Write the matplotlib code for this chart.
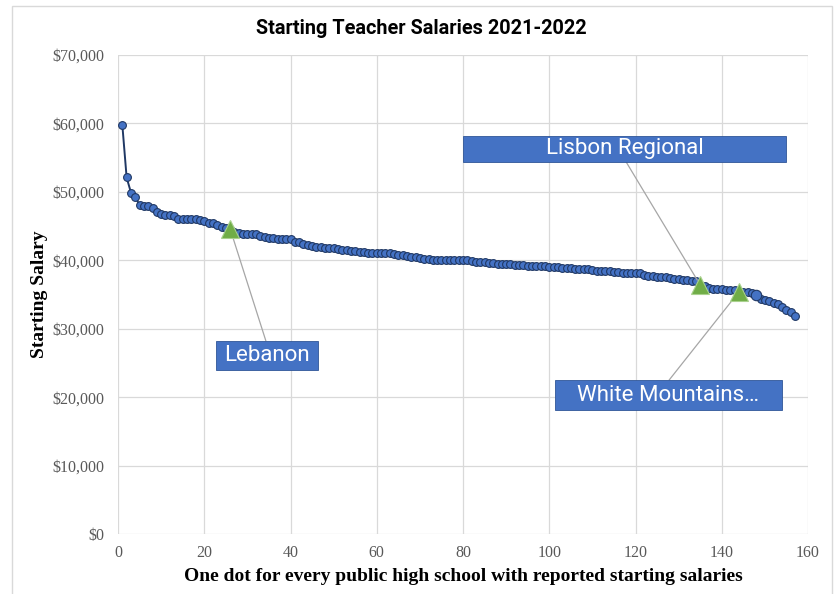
import matplotlib.pyplot as plt
from matplotlib.patches import Rectangle

# starting salary per school, sorted high to low (thousands of dollars)
salaries = [
    59.8, 52.1, 49.9, 49.2, 48.1, 48.0, 47.9, 47.6, 47.1, 46.7,
    46.6, 46.6, 46.5, 46.1, 46.0, 46.0, 46.0, 46.0, 45.9, 45.8,
    45.5, 45.4, 45.2, 44.9, 44.7, 44.6,
    44.1, 44.0, 43.9, 43.9, 43.9, 43.8, 43.5, 43.4, 43.3, 43.2,
    43.1, 43.1, 43.1, 43.1, 42.7, 42.6, 42.4, 42.2, 42.1, 41.9,
    41.9, 41.8, 41.8, 41.8, 41.6, 41.5,
    41.5, 41.4, 41.3, 41.2, 41.2, 41.1, 41.1, 41.1, 41.0, 41.0,
    41.0, 40.9, 40.8, 40.7, 40.6, 40.5, 40.5, 40.3, 40.2, 40.2,
    40.1, 40.1, 40.1, 40.1, 40.1, 40.0, 40.0, 40.0,
    40.0, 39.9, 39.8, 39.7, 39.7, 39.6, 39.6, 39.5, 39.5, 39.4,
    39.4, 39.3, 39.3, 39.3, 39.2, 39.2, 39.2, 39.1, 39.1, 39.0,
    39.0, 39.0, 38.9, 38.9, 38.8, 38.7,
    38.7, 38.7, 38.7, 38.6, 38.5, 38.5, 38.4, 38.4, 38.3, 38.3,
    38.2, 38.2, 38.2, 38.1, 38.1, 37.8, 37.7, 37.7, 37.6, 37.6,
    37.5, 37.4, 37.3, 37.2, 37.1, 37.1,
    37.0, 36.9, 36.4,
    36.3, 35.9, 35.8, 35.8, 35.8, 35.7, 35.6, 35.6, 35.4,
    35.3, 35.3, 35.2, 34.9, 34.4, 34.2, 34.0, 33.8, 33.6, 33.2,
    32.8, 32.4, 31.8,
]
schools = list(range(1, len(salaries) + 1))

# highlighted schools (1-based position in sorted list)
highlight_names = ['Lebanon', 'Lisbon Regional', 'White Mountains…']
highlight_idx = [26, 135, 144]

# label boxes: (x0, x1, y0, y1) in data units, and leader line start
label_boxes = [(22.7, 46.4, 24000, 28200), (80.0, 154.9, 54400, 58200), (101.3, 154.0, 18100, 22500)]
leader_from = [(34.3, 28200), (117.8, 54400), (127.8, 22500)]

y = [v * 1000 for v in salaries]

fig = plt.figure(figsize=(8.39, 5.94), dpi=100)
ax = fig.add_axes([118 / 839, 1 - 534 / 594, 690 / 839, 479 / 594])

# outer chart border
fig.patches.append(Rectangle((12 / 839, -0.01), 820 / 839, 1.0, transform=fig.transFigure,
                             fill=False, edgecolor='#d9d9d9', lw=1))

ax.plot(schools, y, color='#203864', lw=1.4, marker='o', markersize=5.6,
        markerfacecolor='#4472C4', markeredgecolor='#203864', markeredgewidth=0.8, zorder=3)
# one slightly bigger dot
ax.plot(schools[147], y[147], 'o', markersize=7.5, markerfacecolor='#4472C4',
        markeredgecolor='#203864', markeredgewidth=0.8, zorder=3)

hx = [schools[i - 1] for i in highlight_idx]
hy = [y[i - 1] for i in highlight_idx]
ax.plot(hx, hy, '^', markersize=13.5, markerfacecolor='#70AD47',
        markeredgecolor='#a9d18e', markeredgewidth=0.8, zorder=5, linestyle='none')

for name, (bx0, bx1, by0, by1), (lx, ly), px, py in zip(highlight_names, label_boxes, leader_from, hx, hy):
    ax.annotate('', xy=(px, py), xytext=(lx, ly),
                arrowprops=dict(arrowstyle='-', color='#a6a6a6', lw=0.9, shrinkA=0, shrinkB=4), zorder=4)
    ax.add_patch(Rectangle((bx0, by0), bx1 - bx0, by1 - by0, facecolor='#4472C4',
                           edgecolor='#2f5597', lw=0.6, zorder=6))
    ax.text((bx0 + bx1) / 2, (by0 + by1) / 2, name, ha='center', va='center', color='white',
            fontsize=16, family='Roboto', zorder=7)

ax.set_xlim(0, 160)
ax.set_ylim(0, 70000)
ax.set_xticks(range(0, 161, 20))
ax.set_yticks(range(0, 70001, 10000))
ax.set_yticklabels(['${:,}'.format(v) for v in range(0, 70001, 10000)])
ax.grid(True, color='#d9d9d9', lw=0.9)
ax.set_axisbelow(True)
for s in ax.spines.values():
    s.set_visible(False)
ax.tick_params(length=0, labelsize=11.5, labelcolor='#595959', pad=10)
ax.tick_params(axis='x', pad=8)
for lab in ax.get_xticklabels() + ax.get_yticklabels():
    lab.set_family('Liberation Serif')

ax.set_xlabel('One dot for every public high school with reported starting salaries',
              family='Liberation Serif', fontweight='bold', fontsize=14, labelpad=5)
ax.set_ylabel('Starting Salary', family='Liberation Serif', fontweight='bold', fontsize=14, labelpad=3)
fig.text(421 / 839, 1 - 28 / 594, 'Starting Teacher Salaries 2021-2022', ha='center', va='center',
         family='Roboto', fontweight='bold', fontsize=14.3)

fig.savefig('out.png', dpi=100)
